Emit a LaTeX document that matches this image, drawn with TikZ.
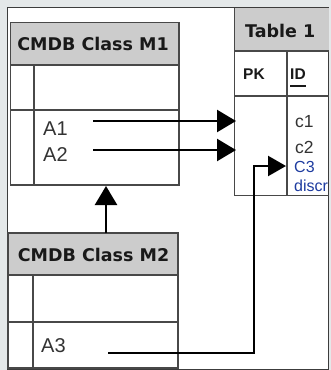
\documentclass[tikz,border=0pt]{standalone}
\usepackage{fontspec}
\setmainfont{Liberation Sans}
\newfontfamily\hdrfont{DejaVu Sans}
\usetikzlibrary{arrows.meta}
\definecolor{outerbg}{RGB}{228,232,233}
\definecolor{hdrfill}{RGB}{204,204,204}
\definecolor{boxline}{RGB}{72,72,72}
\definecolor{framecol}{RGB}{60,60,60}
\definecolor{txtgrey}{RGB}{51,51,51}
\definecolor{discrblue}{RGB}{30,60,160}
\tikzset{
  box/.style={draw=boxline, line width=1.6},
  innerline/.style={draw=boxline, line width=1.2},
  hdr/.style={fill=hdrfill},
  htext/.style={font=\hdrfont\bfseries\fontsize{17.5}{20}\selectfont, text=black!90, inner sep=0, anchor=base},
  attr/.style={font=\fontsize{20}{24}\selectfont, text=txtgrey, inner sep=0, anchor=base west},
  colname/.style={font=\fontsize{17.5}{20}\selectfont, text=txtgrey, inner sep=0, anchor=base west},
  keyname/.style={font=\bfseries\fontsize{15.5}{18}\selectfont, text=black!90, inner sep=0, anchor=base west},
  bluetext/.style={font=\fontsize{16}{18}\selectfont, text=discrblue, inner sep=0, anchor=base west},
  conn/.style={line width=2.4, black},
  bigarr/.style={-{Triangle[length=19pt,width=22pt]}},
  smallarr/.style={-{Triangle[length=18pt,width=20pt]}}
}
\begin{document}
\begin{tikzpicture}[x=1pt,y=-1pt]
\useasboundingbox (0,0) rectangle (331,370);
% outer background and frame
\fill[outerbg] (0,0) rectangle (331,370);
\draw[framecol, fill=white, line width=1] (7.5,7.5) rectangle (328.5,369.5);

% CMDB Class M1
\fill[hdr] (10.5,22.5) rectangle (179,65);
\draw[innerline] (10.5,65) -- (179,65);
\draw[innerline] (10.5,110) -- (179,110);
\draw[innerline] (34,65) -- (34,185);
\draw[box] (10.5,22.5) rectangle (179,185);
\node[htext] (m1title) at (93,50) {CMDB Class M1};

% CMDB Class M2
\fill[hdr] (8,233) rectangle (178,275);
\draw[innerline] (8,275) -- (178,275);
\draw[innerline] (8,322) -- (178,322);
\draw[innerline] (33,275) -- (33,368);
\draw[box] (8,233) rectangle (178,368);
\node[htext] (m2title) at (93.5,261) {CMDB Class M2};

% Table 1
\fill[hdr] (234.5,8) rectangle (328.5,51);
\draw[innerline] (234.5,51) -- (328.5,51);
\draw[innerline] (234.5,96) -- (328.5,96);
\draw[innerline] (287,51) -- (287,195.5);
\draw[box] (234.5,8) -- (234.5,195.5) -- (328.5,195.5);
\node[htext, anchor=base west] (t1title) at (245,37.5) {Table 1};
\node[keyname] (pk) at (243,79) {PK};
\node[keyname] (id) at (290,79) {ID};
\draw[black!90, line width=1.3] ([yshift=-7pt]id.base west) -- ([yshift=-7pt]id.base east);
\node[colname] (c1) at (295,127) {c1};
\node[colname] (c2) at (295,153) {c2};
\node[bluetext] (c3) at (294,172) {C3};
\node[bluetext] (discr) at (294,191.5) {discr};

% attributes
\node[attr] (a1) at (43,135) {A1};
\node[attr] (a2) at (43,161.5) {A2};
\node[attr] (a3) at (41,352.5) {A3};

% connector end points
\coordinate (a1s) at (93,121);
\coordinate (a1e) at (236,121);
\coordinate (a2s) at (93,150);
\coordinate (a2e) at (236,150);
\coordinate (a3s) at (108,353);
\coordinate (a3c) at (254,353);
\coordinate (a3e) at (286,166);
\coordinate (inhs) at (106,233);
\coordinate (inhe) at (106,186);

\draw[conn,bigarr] (a1s) -- (a1e);
\draw[conn,bigarr] (a2s) -- (a2e);
\draw[conn,smallarr] (a3s) -- (a3c) |- (a3e);
\draw[conn,bigarr] (inhs) -- (inhe);
\end{tikzpicture}
\end{document}
